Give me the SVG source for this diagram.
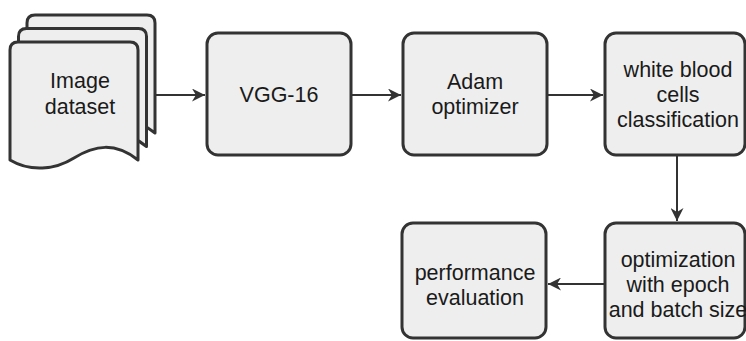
<svg xmlns="http://www.w3.org/2000/svg" width="746" height="341" viewBox="0 0 746 341">
<style>
.box{fill:#eeeeee;stroke:#333333;stroke-width:3}
.doc{fill:#eeeeee;stroke:#333333;stroke-width:3;stroke-linejoin:round}
.lbl{font-family:"Liberation Sans",Arial,sans-serif;font-size:21.5px;fill:#1a1a1a;text-anchor:middle}
.edge{fill:none;stroke:#333333;stroke-width:2}
</style>
<defs>
<marker id="arr" viewBox="0 0 10 10" refX="10" refY="5" markerWidth="13" markerHeight="13" markerUnits="userSpaceOnUse" orient="auto">
<path d="M0,0 L10,5 L0,10 L3,5 Z" fill="#333333"/>
</marker>
<path id="docshape" d="M10,50 Q10,42 18,42 H130 Q138,42 138,50 V160 C115,142 95,145 74,158 C55,170 30,172 10,160 Z"/>
</defs>
<rect width="746" height="341" fill="#ffffff"/>
<g id="connectors">
<path class="edge" d="M154,95 H205" marker-end="url(#arr)"/>
<path class="edge" d="M351,95 H401" marker-end="url(#arr)"/>
<path class="edge" d="M547,95 H603" marker-end="url(#arr)"/>
<path class="edge" d="M677,155 V221" marker-end="url(#arr)"/>
<path class="edge" d="M605,284 H548" marker-end="url(#arr)"/>
</g>
<g id="image-dataset">
<use href="#docshape" class="doc" transform="translate(17,-27)"/>
<use href="#docshape" class="doc" transform="translate(8.5,-13.5)"/>
<use href="#docshape" class="doc"/>
<text class="lbl" x="80" y="88">Image</text>
<text class="lbl" x="80" y="114">dataset</text>
</g>
<g id="vgg16">
<rect class="box" x="207" y="33" width="144" height="122" rx="11"/>
<text class="lbl" x="279" y="102">VGG-16</text>
</g>
<g id="adam">
<rect class="box" x="403" y="33" width="144" height="122" rx="11"/>
<text class="lbl" x="475" y="89">Adam</text>
<text class="lbl" x="475" y="114">optimizer</text>
</g>
<g id="wbc">
<rect class="box" x="605" y="33" width="140" height="122" rx="11"/>
<text class="lbl" x="678" y="77">white blood</text>
<text class="lbl" x="678" y="102">cells</text>
<text class="lbl" x="678" y="127">classification</text>
</g>
<g id="optimization">
<rect class="box" x="605" y="223" width="140" height="115" rx="11"/>
<text class="lbl" x="678" y="267">optimization</text>
<text class="lbl" x="678" y="292">with epoch</text>
<text class="lbl" x="678" y="317">and batch size</text>
</g>
<g id="performance">
<rect class="box" x="402" y="223" width="144" height="115" rx="11"/>
<text class="lbl" x="475" y="280">performance</text>
<text class="lbl" x="475" y="305">evaluation</text>
</g>
</svg>
